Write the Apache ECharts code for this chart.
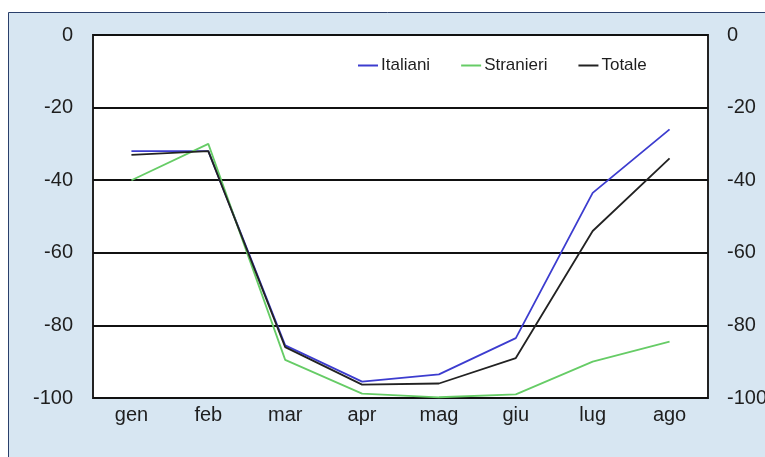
<!DOCTYPE html>
<html>
<head>
    <meta charset="utf-8" />
    <title></title>
    <script src="https://cdn.jsdelivr.net/npm/echarts@6/dist/echarts.min.js"></script>
</head>
<body style="margin:0; background:#ffffff;">
<div id="main" style="width: 765px; height: 457px"></div>
    <script type="text/javascript">
        // dati (variazione %)
        var mesi = ['gen', 'feb', 'mar', 'apr', 'mag', 'giu', 'lug', 'ago'];
        var italiani = [-32, -32, -85.5, -95.5, -93.5, -83.5, -43.5, -26];
        var stranieri = [-40, -30, -89.5, -98.8, -99.8, -99, -90, -84.5];
        var totale = [-33, -32, -86, -96.3, -96, -89, -54, -34];

        var myChart = echarts.init(document.getElementById('main'));
        var labelStyle = {
            color: '#1e1e1e',
            fontSize: 20,
            fontFamily: 'Liberation Sans'
        };
        myChart.setOption({
            animation: false,
            graphic: [{
                type: 'rect',
                z: -10,
                shape: { x: 8.5, y: 12.5, width: 770, height: 460 },
                style: { fill: '#d7e6f2', stroke: '#2a3f6b', lineWidth: 1 }
            }],
            legend: {
                top: 57,
                left: 358,
                padding: 0,
                itemWidth: 20,
                itemHeight: 2,
                itemGap: 31,
                icon: 'rect',
                textStyle: { fontSize: 17, color: '#1e1e1e', fontFamily: 'Liberation Sans', padding: [0, 0, 0, -2] },
                data: ['Italiani', 'Stranieri', 'Totale']
            },
            grid: {
                left: 93,
                right: 57,
                top: 35,
                bottom: 59,
                outerBoundsMode: 'none',
                show: true,
                backgroundColor: '#ffffff',
                borderColor: '#222222',
                borderWidth: 2
            },
            xAxis: {
                type: 'category',
                data: mesi,
                boundaryGap: true,
                axisLine: { show: false },
                axisTick: { show: false },
                axisLabel: Object.assign({ margin: 7 }, labelStyle)
            },
            yAxis: [{
                type: 'value',
                position: 'left',
                min: -100,
                max: 0,
                interval: 20,
                axisLine: { show: false },
                axisTick: { show: false },
                axisLabel: Object.assign({ margin: 20 }, labelStyle),
                splitLine: { show: true, lineStyle: { color: '#111111', width: 1.8 } }
            }, {
                type: 'value',
                position: 'right',
                min: -100,
                max: 0,
                interval: 20,
                axisLine: { show: false },
                axisTick: { show: false },
                axisLabel: Object.assign({ margin: 19 }, labelStyle),
                splitLine: { show: false }
            }],
            series: [
                {
                    name: 'Italiani',
                    type: 'line',
                    data: italiani,
                    symbol: 'none',
                    itemStyle: { color: '#3c3ccf' },
                    lineStyle: { color: '#3c3ccf', width: 1.8 }
                },
                {
                    name: 'Stranieri',
                    type: 'line',
                    data: stranieri,
                    symbol: 'none',
                    itemStyle: { color: '#66cc66' },
                    lineStyle: { color: '#66cc66', width: 1.8 }
                },
                {
                    name: 'Totale',
                    type: 'line',
                    data: totale,
                    symbol: 'none',
                    itemStyle: { color: '#222222' },
                    lineStyle: { color: '#222222', width: 1.8 }
                }
            ]
        });
    </script>
</body>
</html>
